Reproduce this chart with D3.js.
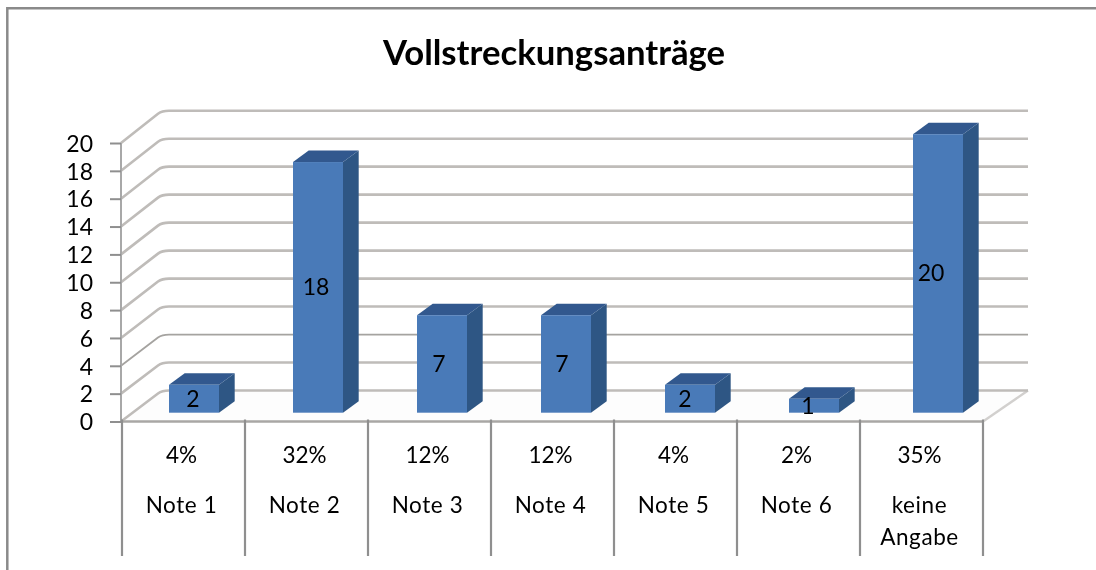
<!DOCTYPE html>
<html><head><meta charset="utf-8">
<script src="https://cdn.jsdelivr.net/npm/d3@7"></script>
<style>html,body{margin:0;padding:0;background:#fff;overflow:hidden}svg{display:block}text{font-family:Lato,"Open Sans",sans-serif;fill:#000}</style>
</head><body>
<svg id="c" width="1096" height="570"></svg>
<script>
const chartTitle = "Vollstreckungsanträge";
const categories = ["Note 1","Note 2","Note 3","Note 4","Note 5","Note 6","keine Angabe"];
const values = [2,18,7,7,2,1,20];
const percents = ["4%","32%","12%","12%","4%","2%","35%"];
const yTicks = [0,2,4,6,8,10,12,14,16,18,20];

const svg = d3.select("#c");
const defs = svg.append("defs");
defs.append("filter").attr("id","soft")
  .attr("filterUnits","userSpaceOnUse").attr("x",0).attr("y",0).attr("width",1096).attr("height",570)
  .append("feGaussianBlur").attr("stdDeviation",0.55);
const root = svg.append("g").attr("filter","url(#soft)");

// frame: left and top edge only
root.append("path").attr("d","M7.3,570V8.3H1096").attr("fill","none").attr("stroke","#8a8a8a").attr("stroke-width",2.5);

root.append("text").attr("x",554).attr("y",65).attr("text-anchor","middle")
  .attr("font-size",34.7).attr("font-weight",700).text(chartTitle);

const x = d3.scaleBand().domain(categories).range([122,983]);
const y = d3.scaleLinear().domain([0,20]).range([421.5,143]);
const yBack = d3.scaleLinear().domain([0,20]).range([390.5,110.7]);
const xBar = d3.scalePoint().domain(categories).range([169,913]);
const depthX = 41;
const grid = "#bfbcb9";

// floor
const [x0,x1] = x.range();
root.append("path").attr("d",`M${x0},${y(0)}L${x0+depthX},${yBack(0)}H${x1+depthX}L${x1},${y(0)}Z`)
  .attr("fill","#fdfdfd");
root.append("path").attr("d",`M${x1},${y(0)}L${x1+depthX+4},${yBack(0)}`)
  .attr("stroke","#d2d0ce").attr("stroke-width",2.4).attr("fill","none");

// gridlines: side wall then back wall
root.append("g").selectAll("path").data(yTicks).join("path")
  .attr("d",d=>`M${x0-1},${y(d)}L${x0+depthX-5},${yBack(d)+3}Q${x0+depthX-1},${yBack(d)} ${x0+depthX+6},${yBack(d)}H${x1+depthX+4}`)
  .attr("fill","none").attr("stroke",d=>d===4?"#a5a3a0":grid).attr("stroke-width",d=>d===4?1.8:2.6);

// axes
const yAxis = d3.axisLeft(y).tickValues(yTicks).tickSize(11).tickPadding(17).tickFormat(d3.format("d"));
const gy = root.append("g").attr("transform",`translate(${x0-1},0)`).call(yAxis);
gy.selectAll("line").attr("stroke","#8f8f8f").attr("stroke-width",2);
gy.select(".domain").attr("stroke","#a8a8a8").attr("stroke-width",2).attr("d",`M0,${y(20)}V${y(0)}`);
gy.selectAll("text").attr("font-size",23).attr("dy","0.36em").attr("font-family","Lato,sans-serif");

// floor front edge
root.append("line").attr("x1",x0-1).attr("x2",x1).attr("y1",y(0)).attr("y2",y(0)).attr("stroke","#a9a7a5").attr("stroke-width",2.4);

// category separators
const seps = categories.map(c=>x(c)).concat([x1]);
root.append("g").selectAll("line").data(seps).join("line")
  .attr("x1",d=>d).attr("x2",d=>d).attr("y1",y(0)-2).attr("y2",556)
  .attr("stroke","#8f8f8f").attr("stroke-width",2.2);

// 3D bars
const barW = 50, bd = 15.7, bdy = -11.5;
const base = y(0)-8.8;
const h = d => y(0)-y(d);
const left = (d,i)=>xBar(categories[i]);
const bars = root.append("g").selectAll("g").data(values).join("g");
bars.append("path").attr("fill","#2f5684")
  .attr("d",(d,i)=>{const l=left(d,i)+barW;return `M${l},${base}L${l+bd},${base+bdy}V${base-h(d)+bdy}L${l},${base-h(d)}Z`;});
bars.append("path").attr("fill","#30598e")
  .attr("d",(d,i)=>{const l=left(d,i),t=base-h(d);return `M${l},${t}L${l+bd},${t+bdy}H${l+barW+bd}L${l+barW},${t}Z`;});
bars.append("rect").attr("fill","#4a7ab8")
  .attr("x",left).attr("y",d=>base-h(d)).attr("width",barW).attr("height",d=>h(d));
bars.append("text").attr("x",(d,i)=>x(categories[i])+71)
  .attr("y",d=>base-h(d)/2+8).attr("text-anchor","middle").attr("font-size",23).text(d=>d);

// table text
const tbl = root.append("g").attr("text-anchor","middle").attr("font-size",22.5);
const cx = c => x(c)+x.bandwidth()/2-2;
tbl.selectAll(".p").data(percents).join("text").attr("class","p")
  .attr("x",(d,i)=>cx(categories[i])).attr("y",463).text(d=>d);
tbl.selectAll(".n").data(categories).join("text").attr("class","n")
  .attr("x",cx).attr("y",513).attr("letter-spacing",0.6)
  .each(function(d){
    const t=d3.select(this);
    if(d.startsWith("keine")){
      const [a,b]=d.split(" ");
      t.append("tspan").attr("x",t.attr("x")).text(a);
      t.append("tspan").attr("x",t.attr("x")).attr("dy",32).text(b);
    } else t.text(d);
  });
</script>
</body></html>
